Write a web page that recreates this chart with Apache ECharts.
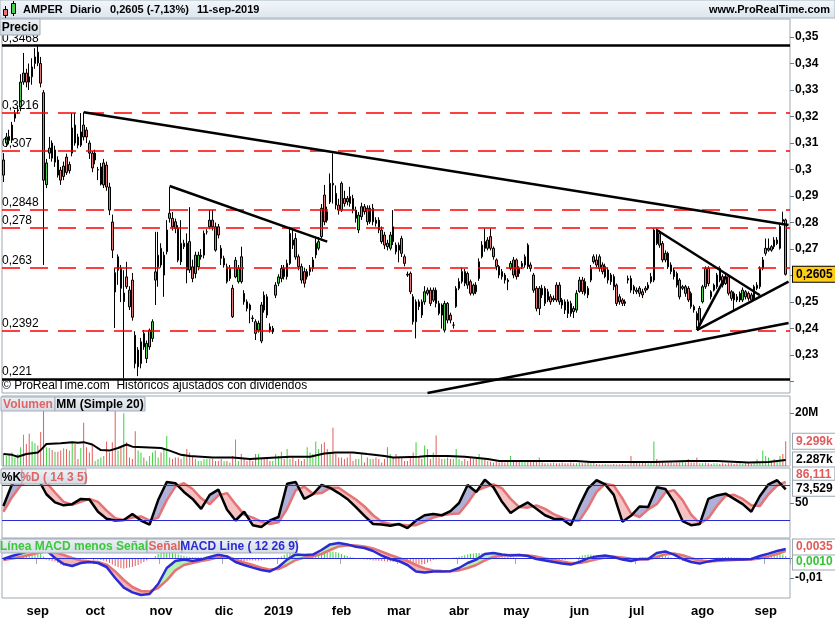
<!DOCTYPE html>
<html>
<head>
<meta charset="utf-8">
<script src="https://cdn.jsdelivr.net/npm/echarts@6.0.0/dist/echarts.min.js"></script>
<style>
html, body { margin: 0; padding: 0; background: #fff; }
#chart { width: 835px; height: 620px; }
</style>
</head>
<body>
<div id="chart"></div>
<script>
var FONT = '"Liberation Sans", Arial, sans-serif';

// daily candles AMPER, 16-aug-2018 .. 11-sep-2019 : [open, close, low, high]
var ohlc = [
[0.2979,0.3036,0.2953,0.3062],[0.3100,0.3123,0.3085,0.3138],[0.3110,0.3125,0.3095,0.3150],[0.3111,0.3168,0.3100,0.3180],
[0.3194,0.3213,0.3180,0.3225],[0.3222,0.3225,0.3210,0.3240],[0.3236,0.3330,0.3220,0.3360],[0.3330,0.3364,0.3320,0.3440],
[0.3364,0.3330,0.3310,0.3380],[0.3350,0.3330,0.3300,0.3400],[0.3350,0.3387,0.3320,0.3420],[0.3400,0.3425,0.3380,0.3458],
[0.3443,0.3402,0.3390,0.3468],[0.3400,0.3326,0.3310,0.3425],[0.3290,0.2960,0.2640,0.3300],[0.2943,0.3025,0.2930,0.3040],
[0.3062,0.3081,0.3040,0.3123],[0.3100,0.3043,0.3030,0.3110],[0.3028,0.3074,0.3010,0.3090],[0.3036,0.2979,0.2970,0.3050],
[0.2998,0.2960,0.2942,0.3010],[0.2974,0.3013,0.2960,0.3030],[0.3047,0.2989,0.2980,0.3060],[0.2996,0.3019,0.2985,0.3030],
[0.3062,0.3157,0.3050,0.3213],[0.3168,0.3100,0.3090,0.3213],[0.3123,0.3092,0.3080,0.3135],[0.3092,0.3142,0.3085,0.3213],
[0.3168,0.3123,0.3110,0.3216],[0.3149,0.3123,0.3100,0.3160],[0.3100,0.3062,0.3040,0.3110],[0.3062,0.3006,0.2990,0.3070],
[0.3036,0.3062,0.3020,0.3075],[0.2998,0.3000,0.2960,0.3010],[0.2945,0.3010,0.2940,0.3025],[0.2942,0.3025,0.2930,0.3040],
[0.3017,0.2934,0.2920,0.3030],[0.2934,0.2847,0.2828,0.2950],[0.2802,0.2696,0.2666,0.2830],[0.2611,0.2538,0.2402,0.2628],
[0.2620,0.2671,0.2565,0.2680],[0.2627,0.2552,0.2500,0.2640],[0.2502,0.2534,0.2213,0.2620],[0.2595,0.2558,0.2550,0.2652],
[0.2545,0.2482,0.2470,0.2560],[0.2583,0.2443,0.2430,0.2610],[0.2375,0.2268,0.2250,0.2390],[0.2256,0.2319,0.2221,0.2330],
[0.2268,0.2350,0.2250,0.2365],[0.2382,0.2331,0.2320,0.2395],[0.2287,0.2344,0.2270,0.2355],[0.2331,0.2394,0.2320,0.2400],
[0.2363,0.2426,0.2350,0.2435],
[0.2583,0.2614,0.2489,0.2765],[0.2633,0.2677,0.2558,0.2765],[0.2703,0.2640,0.2630,0.2722],[0.2602,0.2677,0.2520,0.2690],
[0.2690,0.2772,0.2680,0.2809],[0.2816,0.2835,0.2800,0.2934],[0.2816,0.2784,0.2770,0.2840],[0.2803,0.2778,0.2760,0.2815],
[0.2778,0.2658,0.2650,0.2790],[0.2722,0.2652,0.2640,0.2809],[0.2709,0.2722,0.2700,0.2735],[0.2722,0.2621,0.2571,0.2759],
[0.2728,0.2621,0.2610,0.2858],[0.2633,0.2589,0.2575,0.2660],[0.2608,0.2677,0.2590,0.2690],[0.2633,0.2677,0.2620,0.2690],
[0.2671,0.2677,0.2660,0.2700],[0.2677,0.2759,0.2665,0.2770],[0.2765,0.2765,0.2755,0.2775],[0.2784,0.2809,0.2775,0.2847],
[0.2809,0.2784,0.2770,0.2847],[0.2784,0.2696,0.2690,0.2800],[0.2784,0.2753,0.2740,0.2795],[0.2703,0.2665,0.2640,0.2715],
[0.2640,0.2665,0.2630,0.2675],[0.2633,0.2577,0.2570,0.2645],[0.2589,0.2627,0.2580,0.2640],[0.2552,0.2445,0.2440,0.2565],
[0.2595,0.2658,0.2590,0.2670],[0.2577,0.2627,0.2570,0.2640],[0.2671,0.2577,0.2570,0.2709],[0.2533,0.2501,0.2490,0.2545],
[0.2501,0.2476,0.2465,0.2510],[0.2489,0.2470,0.2420,0.2495],[0.2440,0.2438,0.2425,0.2450],[0.2426,0.2382,0.2357,0.2435],
[0.2394,0.2420,0.2385,0.2430],[0.2353,0.2489,0.2345,0.2500],[0.2526,0.2470,0.2460,0.2540],[0.2520,0.2451,0.2440,0.2530],
[0.2407,0.2394,0.2385,0.2420],[0.2388,0.2401,0.2380,0.2410],[0.2526,0.2564,0.2515,0.2575],[0.2571,0.2595,0.2560,0.2605],
[0.2589,0.2627,0.2575,0.2640],[0.2627,0.2596,0.2585,0.2640],[0.2596,0.2646,0.2585,0.2660],[0.2646,0.2759,0.2640,0.2784],
[0.2734,0.2715,0.2700,0.2778],[0.2740,0.2670,0.2660,0.2760],[0.2671,0.2634,0.2620,0.2680],[0.2634,0.2583,0.2570,0.2645],
[0.2615,0.2571,0.2555,0.2630],[0.2596,0.2615,0.2585,0.2625],[0.2615,0.2627,0.2600,0.2640],[0.2627,0.2659,0.2615,0.2670],
[0.2678,0.2722,0.2665,0.2740],[0.2703,0.2728,0.2695,0.2745],[0.2747,0.2854,0.2740,0.2870],[0.2904,0.2803,0.2790,0.2942],
[0.2841,0.2809,0.2800,0.2860],[0.2878,0.2948,0.2870,0.2985],[0.2948,0.2942,0.2872,0.3061],[0.2910,0.2866,0.2850,0.2940],
[0.2866,0.2847,0.2830,0.2890],[0.2948,0.2847,0.2840,0.2955],[0.2891,0.2872,0.2860,0.2920],[0.2891,0.2878,0.2865,0.2900],
[0.2898,0.2872,0.2860,0.2935],[0.2891,0.2847,0.2835,0.2905],[0.2847,0.2816,0.2800,0.2860],[0.2772,0.2828,0.2760,0.2840],
[0.2822,0.2860,0.2810,0.2875],[0.2860,0.2841,0.2830,0.2870],[0.2854,0.2803,0.2790,0.2865],[0.2803,0.2854,0.2795,0.2865],
[0.2854,0.2803,0.2790,0.2870],[0.2809,0.2797,0.2785,0.2820],[0.2809,0.2772,0.2760,0.2820],[0.2772,0.2728,0.2720,0.2785],
[0.2753,0.2715,0.2700,0.2765],[0.2722,0.2709,0.2695,0.2735],[0.2703,0.2753,0.2695,0.2765],[0.2784,0.2728,0.2715,0.2847],
[0.2715,0.2690,0.2680,0.2725],[0.2715,0.2696,0.2650,0.2725],[0.2740,0.2684,0.2670,0.2750],[0.2671,0.2646,0.2635,0.2680],
[0.2605,0.2602,0.2595,0.2615],[0.2608,0.2539,0.2530,0.2615],[0.2520,0.2426,0.2415,0.2530],[0.2426,0.2501,0.2363,0.2510],
[0.2501,0.2483,0.2470,0.2510],[0.2501,0.2451,0.2440,0.2510],[0.2501,0.2539,0.2490,0.2560],[0.2533,0.2545,0.2525,0.2555],
[0.2545,0.2495,0.2485,0.2555],[0.2507,0.2545,0.2500,0.2555],[0.2545,0.2495,0.2480,0.2555],[0.2495,0.2457,0.2450,0.2505],
[0.2489,0.2451,0.2400,0.2495],[0.2394,0.2495,0.2385,0.2505],[0.2495,0.2432,0.2420,0.2500],[0.2451,0.2432,0.2420,0.2460],
[0.2413,0.2413,0.2400,0.2425],[0.2483,0.2551,0.2478,0.2560],[0.2552,0.2577,0.2545,0.2590],[0.2577,0.2615,0.2570,0.2630],
[0.2615,0.2571,0.2560,0.2625],[0.2608,0.2564,0.2550,0.2615],[0.2577,0.2533,0.2525,0.2585],[0.2564,0.2533,0.2525,0.2570],
[0.2564,0.2539,0.2530,0.2575],[0.2589,0.2652,0.2580,0.2665],[0.2671,0.2715,0.2665,0.2730],[0.2728,0.2703,0.2690,0.2778],
[0.2703,0.2734,0.2695,0.2745],[0.2747,0.2703,0.2695,0.2778],[0.2703,0.2671,0.2660,0.2710],[0.2659,0.2634,0.2620,0.2665],
[0.2634,0.2602,0.2590,0.2640],[0.2615,0.2596,0.2585,0.2625],[0.2602,0.2583,0.2570,0.2610],[0.2583,0.2577,0.2545,0.2590],
[0.2627,0.2646,0.2620,0.2655],[0.2659,0.2602,0.2590,0.2670],[0.2659,0.2596,0.2585,0.2665],[0.2627,0.2608,0.2595,0.2635],
[0.2634,0.2646,0.2625,0.2655],[0.2640,0.2671,0.2630,0.2680],[0.2715,0.2634,0.2625,0.2722],[0.2640,0.2627,0.2615,0.2650],
[0.2602,0.2545,0.2535,0.2610],[0.2552,0.2476,0.2465,0.2560],
[0.2476,0.2552,0.2451,0.2560],[0.2552,0.2527,0.2515,0.2565],[0.2552,0.2495,0.2485,0.2560],[0.2508,0.2539,0.2500,0.2550],
[0.2520,0.2501,0.2490,0.2530],[0.2508,0.2514,0.2500,0.2525],[0.2564,0.2508,0.2500,0.2575],[0.2564,0.2501,0.2490,0.2575],
[0.2508,0.2489,0.2475,0.2515],[0.2501,0.2470,0.2455,0.2510],[0.2501,0.2457,0.2440,0.2510],[0.2495,0.2457,0.2445,0.2505],
[0.2476,0.2464,0.2440,0.2485],[0.2470,0.2533,0.2460,0.2545],[0.2540,0.2583,0.2535,0.2595],[0.2583,0.2540,0.2530,0.2595],
[0.2533,0.2577,0.2525,0.2590],[0.2552,0.2527,0.2515,0.2560],[0.2583,0.2627,0.2575,0.2640],[0.2652,0.2671,0.2645,0.2680],
[0.2659,0.2640,0.2630,0.2680],[0.2671,0.2627,0.2615,0.2680],[0.2640,0.2615,0.2605,0.2650],[0.2596,0.2634,0.2590,0.2645],
[0.2621,0.2583,0.2570,0.2630],[0.2602,0.2577,0.2565,0.2610],[0.2596,0.2558,0.2545,0.2605],[0.2564,0.2495,0.2485,0.2570],
[0.2520,0.2501,0.2490,0.2530],[0.2508,0.2495,0.2485,0.2515],[0.2501,0.2495,0.2485,0.2510],[0.2589,0.2583,0.2570,0.2600],
[0.2589,0.2545,0.2535,0.2600],[0.2558,0.2545,0.2530,0.2565],[0.2545,0.2539,0.2530,0.2555],[0.2552,0.2533,0.2520,0.2560],
[0.2539,0.2527,0.2515,0.2550],[0.2552,0.2545,0.2535,0.2560],[0.2552,0.2564,0.2545,0.2575],[0.2577,0.2596,0.2570,0.2610],
[0.2583,0.2772,0.2575,0.2778],[0.2772,0.2721,0.2715,0.2778],[0.2759,0.2715,0.2705,0.2770],[0.2721,0.2659,0.2650,0.2730],
[0.2684,0.2659,0.2650,0.2695],[0.2684,0.2633,0.2625,0.2690],[0.2640,0.2615,0.2605,0.2650],[0.2621,0.2596,0.2585,0.2630],
[0.2608,0.2564,0.2555,0.2615],[0.2583,0.2520,0.2510,0.2590],[0.2552,0.2558,0.2545,0.2565],[0.2558,0.2533,0.2520,0.2565],
[0.2552,0.2508,0.2500,0.2560],[0.2533,0.2483,0.2475,0.2540],[0.2483,0.2470,0.2460,0.2490],[0.2457,0.2432,0.2401,0.2465],
[0.2413,0.2476,0.2405,0.2485],[0.2501,0.2558,0.2495,0.2565],[0.2558,0.2627,0.2550,0.2635],[0.2627,0.2570,0.2560,0.2635],
[0.2539,0.2520,0.2510,0.2545],[0.2545,0.2564,0.2540,0.2570],[0.2558,0.2602,0.2550,0.2610],[0.2627,0.2583,0.2575,0.2635],
[0.2596,0.2564,0.2555,0.2605],[0.2570,0.2596,0.2565,0.2605],[0.2596,0.2533,0.2525,0.2605],[0.2539,0.2514,0.2505,0.2545],
[0.2533,0.2508,0.2470,0.2540],[0.2520,0.2508,0.2500,0.2530],[0.2508,0.2533,0.2500,0.2540],[0.2508,0.2545,0.2500,0.2555],
[0.2539,0.2520,0.2510,0.2545],[0.2533,0.2514,0.2505,0.2540],[0.2527,0.2508,0.2500,0.2535],[0.2514,0.2558,0.2505,0.2565],
[0.2552,0.2564,0.2545,0.2575],[0.2558,0.2627,0.2550,0.2635],[0.2627,0.2659,0.2620,0.2670],[0.2684,0.2703,0.2675,0.2740],
[0.2696,0.2703,0.2690,0.2740],[0.2709,0.2696,0.2690,0.2715],[0.2734,0.2709,0.2700,0.2745],[0.2721,0.2734,0.2715,0.2745],
[0.2703,0.2785,0.2698,0.2795],[0.2812,0.2805,0.2790,0.2841],[0.2810,0.2605,0.2600,0.2815]
];

// volume, millions
var volume = [
4.5,3.8,4.5,5.1,3.2,4.5,7.1,11.8,8.3,12.2,9.2,8.6,7.7,12.8,20.9,
7.1,6.8,6.0,5.4,5.4,5.8,6.7,6.4,5.8,9.0,8.3,2.6,6.8,16.3,7.1,
5.1,8.3,1.9,2.6,3.2,3.8,9.2,5.1,9.0,20.9,5.8,7.1,19.9,9.0,3.2,
2.6,13.1,5.8,5.1,3.2,1.9,3.8,5.1,5.8,3.2,5.1,6.4,11.3,3.2,2.6,
3.2,3.2,2.6,4.5,6.4,5.1,3.8,2.6,1.9,1.9,2.6,2.6,2.6,2.6,1.9,
1.9,2.6,1.9,1.9,1.3,3.8,10.0,1.9,4.5,2.6,1.9,2.6,1.9,4.5,4.5,
2.6,3.2,3.2,1.9,1.9,4.5,3.8,5.4,2.6,6.4,2.6,3.2,1.9,2.6,1.9,
2.6,7.1,5.1,4.5,9.2,6.4,8.3,9.0,6.4,5.1,14.4,4.5,3.2,3.2,2.6,
3.2,4.5,1.9,2.6,2.6,4.5,1.3,3.2,2.6,2.6,3.2,2.6,1.3,2.6,7.1,
4.5,3.2,4.5,3.2,3.2,1.9,1.9,3.2,5.1,9.0,3.2,
2.6,7.7,6.4,2.6,5.1,11.5,3.2,2.6,2.6,3.2,2.6,2.6,6.4,2.6,1.9,
2.6,1.9,3.2,2.6,2.6,4.5,3.2,2.6,1.9,1.6,1.3,1.6,1.3,1.6,1.3,
1.6,3.8,1.9,1.9,1.6,1.9,1.9,1.6,1.9,1.9,1.6,3.2,1.3,1.0,1.0,
1.0,1.3,1.0,1.0,1.3,1.0,1.0,1.3,1.0,1.0,1.3,1.0,1.0,1.3,1.0,
1.9,0.8,0.6,0.6,0.8,0.6,0.6,0.8,0.6,0.6,0.8,0.6,0.6,3.8,1.3,
1.3,1.0,1.3,1.3,1.0,1.3,9.2,2.6,1.3,1.3,1.0,1.3,1.3,1.0,1.3,
1.3,1.9,1.3,2.6,1.3,1.3,3.2,1.0,1.0,1.3,1.0,0.8,1.0,1.0,0.8,
1.0,0.8,1.0,1.0,0.8,1.0,1.0,0.8,1.0,1.0,0.8,1.0,2.6,1.3,5.8,
3.8,3.2,1.9,2.6,1.9,3.8,4.5,9.299
];

// MM (Simple 20) of volume, read at [bar, millions]
var volumeMA = [[0,4.5],[3,4.2],[5,3.5],[8,4.5],[12,5.1],[13,6.0],[15,8.3],[20,8.6],[24,9.0],[26,8.8],[28,9.0],
[31,8.1],[34,6.0],[37,5.8],[40,6.8],[43,8.1],[45,7.3],[49,7.1],[55,6.8],[58,5.8],[62,4.2],[65,3.8],[73,3.2],
[80,3.2],[86,2.6],[92,3.0],[100,3.5],[107,3.5],[112,4.7],[116,5.1],[122,5.1],[127,4.5],[133,3.8],[136,3.2],
[145,3.5],[148,3.8],[155,3.8],[161,3.5],[169,2.6],[173,1.9],[200,1.9],[205,1.5],[227,1.5],[239,1.9],[249,1.9],
[260,1.3],[267,1.5],[273,2.287]];

// Estocastico %K / %D (14 3 5)
var pctK = [[0,45],[3,82],[6,93],[9,97],[12,92],[15,65],[18,51],[21,46],[24,48],[27,57],[30,56],[33,35],[36,23],
[39,20],[42,21],[45,31],[48,20],[51,13],[54,55],[57,86],[60,84],[63,69],[66,57],[69,40],[72,64],[75,73],[78,39],
[81,20],[84,35],[87,12],[90,9],[93,20],[96,26],[99,83],[102,86],[105,57],[108,65],[111,81],[114,76],[117,67],
[120,57],[123,43],[126,28],[129,14],[132,13],[135,11],[138,14],[141,7],[144,20],[147,29],[150,31],[153,29],
[156,36],[159,50],[162,81],[165,69],[168,90],[171,77],[174,52],[177,33],[180,43],[183,51],[186,40],[189,29],
[192,23],[195,22],[198,12],[201,45],[204,75],[207,89],[210,82],[213,64],[216,18],[219,28],[222,44],[225,43],
[228,77],[231,74],[234,52],[237,19],[240,12],[243,14],[246,57],[249,63],[252,66],[255,57],[258,48],[261,35],
[264,62],[267,82],[270,89],[273,73.529]];
var pctD = [[0,35],[3,60],[6,80],[9,90],[12,94],[15,85],[18,68],[21,52],[24,47],[27,52],[30,57],[33,52],[36,37],
[39,24],[42,21],[45,25],[48,27],[51,20],[54,25],[57,55],[60,78],[63,84],[66,74],[69,58],[72,48],[75,63],[78,67],
[81,48],[84,30],[87,25],[90,18],[93,14],[96,17],[99,40],[102,72],[105,78],[108,66],[111,67],[114,76],[117,76],
[120,66],[123,56],[126,44],[129,29],[132,18],[135,14],[138,13],[141,12],[144,12],[147,18],[150,25],[153,29],
[156,31],[159,32],[162,50],[165,71],[168,77],[171,82],[174,75],[177,57],[180,43],[183,42],[186,46],[189,40],
[192,31],[195,25],[198,20],[201,20],[204,42],[207,69],[210,83],[213,80],[216,58],[219,32],[222,26],[225,39],
[228,48],[231,68],[234,72],[237,55],[240,30],[243,15],[246,24],[249,45],[252,62],[255,64],[258,57],[261,46],
[264,45],[267,65],[270,80],[273,86.111]];

// MACD (12 26 9)
var macdLine = [[0,-0.0005],[3,0.0010],[6,0.0022],[9,0.0036],[12,0.0045],[15,0.0038],[18,0.0000],[21,-0.0030],
[24,-0.0040],[27,-0.0025],[30,-0.0020],[33,-0.0025],[36,-0.0045],[39,-0.0100],[42,-0.0148],[45,-0.0172],
[48,-0.0185],[51,-0.0180],[54,-0.0130],[57,-0.0050],[60,-0.0015],[63,-0.0008],[66,-0.0015],[69,-0.0008],
[72,0.0005],[75,0.0017],[78,0.0008],[81,-0.0020],[84,-0.0035],[87,-0.0048],[90,-0.0060],[93,-0.0067],
[96,-0.0045],[99,-0.0008],[102,0.0018],[105,0.0015],[108,0.0017],[111,0.0040],[114,0.0068],[117,0.0075],
[120,0.0068],[123,0.0056],[126,0.0050],[129,0.0035],[132,0.0012],[135,-0.0005],[138,-0.0015],[141,-0.0035],
[144,-0.0068],[147,-0.0072],[150,-0.0067],[153,-0.0067],[156,-0.0066],[159,-0.0050],[162,-0.0025],[165,-0.0008],
[168,0.0020],[171,0.0025],[174,0.0018],[177,0.0012],[180,0.0015],[183,0.0010],[186,-0.0005],[189,-0.0012],
[192,-0.0020],[195,-0.0027],[198,-0.0033],[201,-0.0020],[204,-0.0002],[207,0.0008],[210,0.0012],[213,0.0005],
[216,-0.0008],[219,-0.0015],[222,-0.0005],[225,-0.0005],[228,0.0025],[231,0.0033],[234,0.0017],[237,-0.0005],
[240,-0.0020],[243,-0.0028],[246,-0.0017],[249,-0.0010],[252,-0.0008],[255,-0.0008],[258,-0.0007],[261,-0.0005],
[264,0.0010],[267,0.0022],[270,0.0035],[273,0.0045]];
var macdSignal = [[0,-0.0010],[3,-0.0003],[6,0.0005],[9,0.0015],[12,0.0025],[15,0.0032],[18,0.0028],[21,0.0015],
[24,0.0000],[27,-0.0012],[30,-0.0018],[33,-0.0020],[36,-0.0033],[39,-0.0067],[42,-0.0110],[45,-0.0145],
[48,-0.0165],[51,-0.0167],[54,-0.0150],[57,-0.0112],[60,-0.0062],[63,-0.0035],[66,-0.0025],[69,-0.0015],
[72,-0.0008],[75,0.0005],[78,0.0008],[81,-0.0008],[84,-0.0022],[87,-0.0035],[90,-0.0048],[93,-0.0058],
[96,-0.0055],[99,-0.0035],[102,-0.0010],[105,0.0002],[108,0.0008],[111,0.0020],[114,0.0040],[117,0.0058],
[120,0.0064],[123,0.0062],[126,0.0058],[129,0.0048],[132,0.0032],[135,0.0015],[138,0.0000],[141,-0.0015],
[144,-0.0035],[147,-0.0052],[150,-0.0062],[153,-0.0065],[156,-0.0066],[159,-0.0062],[162,-0.0050],[165,-0.0035],
[168,-0.0012],[171,0.0005],[174,0.0013],[177,0.0015],[180,0.0015],[183,0.0013],[186,0.0007],[189,-0.0002],
[192,-0.0010],[195,-0.0018],[198,-0.0025],[201,-0.0025],[204,-0.0017],[207,-0.0007],[210,0.0002],[213,0.0006],
[216,0.0003],[219,-0.0004],[222,-0.0007],[225,-0.0006],[228,0.0005],[231,0.0018],[234,0.0022],[237,0.0014],
[240,0.0000],[243,-0.0013],[246,-0.0017],[249,-0.0015],[252,-0.0012],[255,-0.0010],[258,-0.0008],[261,-0.0007],
[264,-0.0002],[267,0.0008],[270,0.0020],[273,0.0035]];
// Linea MACD menos Senal, one per bar, in units of 0.0001
var macdHist = [
-2,1,3,5, 8,12,16,20,24,28,30,30,28,20,8, -8,-12,-15,-18, -25,-32,-38,-40,-38,-32,-25,-18,
-12,-8,-6,-5,-5,-6,-8,-10,-14,-18,-25, -32,-40,-46,-50,-52,-50,-48,-45,-40,-35,-28,-20,-12, -5,0,
10,20,28,30,30,28,25,22,18,14,10,7, 5,4,3,4,5,6,7,8,8,7,5, 3,1,-2,-4,-6,
-10,-13,-15,-15,-14,-13,-12,-12,-12,-11,-10,-9,-7,-5,-2,2, 8,15,22,25,24,20,15,10, 6,4,4,6,10,15,20,
26,30,33,33,30,26,20,14,10, 6,3,0,-2,-4,-6,-8,
-10,-12,-13,-14,-15,-16,-17,-18,-19,-20,-21,-22,-24,-26,-28,-30,-32,-33, -33,-30, -22,-15,-10,-8,-6,-5,
-3,-1,0,2,4,6, 10,14,18,21,23,25,25,24,22,18, 14,11,10,9,8,7,5,3, 2,1,0,-1,-2,-3,-4,-6,
-8,-10,-12,-14,-15,-15,-14,-13,-12,-11,-10,-8,-6,-3, 3,8,12,15,17,17,15,12,9, 7,5,4,3,2,
0,-2,-3,-3,-2,-1,0, 1,1,2,3,5, 10,14,15,15,13,10,6, 2,-2,-5, -9,-12,-15,-17,-17,-16,-14,-12,-9,
-6,-4,-2,-1, 2,3,4,5,5,4,3,2,2,1,1,0,1, 4,8,12,16,19,22,24,25,24,22,18,10
];

// drawn levels and trend lines on the price panel
var solidLevels = [0.3468, 0.221];
var dashedLevels = [0.3216, 0.307, 0.2848, 0.278, 0.263, 0.2392];
var trendLines = [
  [[28, 0.3216], [274, 0.2791]],
  [[58, 0.2938], [113, 0.2728]],
  [[148, 0.2157], [274, 0.2421]],
  [[228, 0.2772], [264, 0.2526]],
  [[242, 0.2394], [274, 0.2577]],
  [[242, 0.2394], [252, 0.2595]]
];

var monthStart = [12, 32, 55, 77, 96, 118, 138, 159, 179, 201, 221, 244, 266];
var monthLabel = ['sep', 'oct', 'nov', 'dic', '2019', 'feb', 'mar', 'abr', 'may', 'jun', 'jul', 'ago', 'sep'];
var priceTicksShown = [0.23, 0.24, 0.25, 0.27, 0.28, 0.29, 0.3, 0.31, 0.32, 0.33, 0.34, 0.35];

var GREEN = '#4ccf4c', RED = '#e57474', BORDER = '#9ea8b2', BLUE = '#2b2bd6';
var CLEAR = 'rgba(0,0,0,0)';

var cats = ohlc.map(function (d, i) { return String(i); });
cats.push('');

function isMonth(index) { return monthStart.indexOf(index) >= 0; }
function comma(v) { return String(v).replace('.', ','); }

function fillData(a, b) {
  var out = [];
  for (var j = 0; j < a.length - 1; j++) {
    out.push([a[j][0], a[j][1], b[j][1], a[j + 1][0], a[j + 1][1], b[j + 1][1]]);
  }
  return out;
}
function makeFill(up, down) {
  return function (params, api) {
    var x0 = api.value(0), a0 = api.value(1), b0 = api.value(2);
    var x1 = api.value(3), a1 = api.value(4), b1 = api.value(5);
    var A0 = api.coord([x0, a0]), B0 = api.coord([x0, b0]);
    var A1 = api.coord([x1, a1]), B1 = api.coord([x1, b1]);
    var d0 = a0 - b0, d1 = a1 - b1;
    var kids = [];
    function poly(pts, c) {
      kids.push({ type: 'polygon', shape: { points: pts }, style: { fill: c, stroke: c, lineWidth: 0.5 }, silent: true });
    }
    if (d0 * d1 >= 0) {
      poly([A0, A1, B1, B0], (d0 + d1) >= 0 ? up : down);
    } else {
      var t = d0 / (d0 - d1);
      var P = [A0[0] + (A1[0] - A0[0]) * t, A0[1] + (A1[1] - A0[1]) * t];
      poly([A0, P, B0], d0 > 0 ? up : down);
      poly([P, A1, B1], d1 > 0 ? up : down);
    }
    return { type: 'group', children: kids };
  };
}

function tag(text, color, bg, dy, border) {
  return {
    show: true, position: 'end', formatter: text, color: color, fontFamily: FONT,
    fontWeight: 'bold', fontSize: 12, backgroundColor: bg || '#fff', borderColor: border || BORDER,
    borderWidth: 1, padding: [2, 3, 1, 3], distance: 3, offset: [0, dy || 0]
  };
}
function clearLine() { return { color: CLEAR, width: 1, type: 'solid' }; }
function marks(data) {
  return { silent: true, symbol: ['none', 'none'], animation: false, precision: 6, data: data };
}

var grids = [
  { top: 19, height: 374 },
  { top: 396, height: 70 },
  { top: 468, height: 70 },
  { top: 539, height: 59 }
].map(function (g) {
  return { left: 2, right: 45, top: g.top, height: g.height, show: true,
    borderColor: BORDER, borderWidth: 1, backgroundColor: '#fff' };
});

var xAxes = grids.map(function (g, gi) {
  return {
    type: 'category', gridIndex: gi, data: cats, boundaryGap: true,
    axisLine: { show: false },
    axisTick: { show: gi === 3, interval: function (i) { return isMonth(i); }, length: 6, lineStyle: { color: BORDER } },
    axisLabel: {
      show: gi === 3, interval: function (i) { return isMonth(i); },
      formatter: function (v, i) { var k = monthStart.indexOf(i); return k >= 0 ? monthLabel[k] : ''; },
      fontFamily: FONT, fontWeight: 'bold', fontSize: 13, color: '#000', margin: 7
    },
    splitLine: { show: false }
  };
});

function yBase(gi, extra) {
  var o = {
    type: 'value', gridIndex: gi, position: 'right',
    axisLine: { show: false },
    axisTick: { show: true, length: 4, lineStyle: { color: '#707880' } },
    axisLabel: { fontFamily: FONT, fontWeight: 'bold', fontSize: 12, color: '#000', margin: 5,
      showMinLabel: false, showMaxLabel: false },
    splitLine: { show: false }
  };
  for (var k in extra) {
    if (k === 'axisLabel') { for (var q in extra[k]) o.axisLabel[q] = extra[k][q]; }
    else o[k] = extra[k];
  }
  return o;
}

var yAxes = [
  yBase(0, { min: 0.2157, max: 0.3568, splitNumber: 14,
    axisLabel: { formatter: function (v) {
      var r = +v.toFixed(2);
      var shown = priceTicksShown.some(function (t) { return Math.abs(t - r) < 1e-6; });
      return shown ? comma(r) : '';
    } } }),
  yBase(1, { min: 0, max: 26.4, interval: 20,
    axisLabel: { formatter: function (v) { return v === 20 ? '20M' : ''; } } }),
  yBase(2, { min: -10, max: 110, interval: 60,
    axisLabel: { formatter: function (v) { return v === 50 ? '50' : ''; } } }),
  yBase(3, { min: -0.02, max: 0.0095, interval: 0.01,
    axisLabel: { formatter: function (v) { return Math.abs(v + 0.01) < 1e-9 ? '-0,01' : ''; } } })
];

var lastBar = ohlc[ohlc.length - 1];
var lastVol = volume[volume.length - 1], lastMA = volumeMA[volumeMA.length - 1][1];
var lastK = pctK[pctK.length - 1][1], lastD = pctD[pctD.length - 1][1];
var lastSig = macdSignal[macdSignal.length - 1][1], lastHist = macdHist[macdHist.length - 1] / 10000;

var levelLabel = { show: true, position: 'insideStartTop', color: '#000', fontFamily: FONT, fontSize: 12, distance: [0, 1] };
var priceMarks = [];
solidLevels.forEach(function (v) {
  priceMarks.push({ yAxis: v, lineStyle: { color: '#000', width: 2.5, type: 'solid' },
    label: Object.assign({ formatter: comma(v) }, levelLabel) });
});
dashedLevels.forEach(function (v) {
  priceMarks.push({ yAxis: v, lineStyle: { color: '#ff0000', width: 1.5, type: [18, 10] },
    label: Object.assign({ formatter: comma(v) }, levelLabel) });
});
trendLines.forEach(function (t) {
  priceMarks.push([{ coord: t[0], lineStyle: { color: '#000', width: 2.5, type: 'solid' }, label: { show: false } }, { coord: t[1] }]);
});
priceMarks.push({ yAxis: lastBar[1], lineStyle: clearLine(),
  label: tag(comma(lastBar[1].toFixed(4)), '#000', '#ffcc1a', 0, '#000') });

var series = [
  {
    type: 'candlestick', name: 'Precio', xAxisIndex: 0, yAxisIndex: 0, data: ohlc, barWidth: 2,
    itemStyle: { color: GREEN, color0: RED, borderColor: '#000', borderColor0: '#000', borderWidth: 1 },
    markLine: marks(priceMarks)
  },
  {
    type: 'bar', name: 'Volumen', xAxisIndex: 1, yAxisIndex: 1, barWidth: 1,
    data: volume.map(function (v, i) {
      return { value: v, itemStyle: { color: ohlc[i][1] >= ohlc[i][0] ? '#3cd03c' : '#e25c5c' } };
    }),
    markLine: marks([{ yAxis: lastVol, lineStyle: clearLine(), label: tag(lastVol.toFixed(3) + 'k', '#e05a5a') }])
  },
  {
    type: 'line', name: 'MM (Simple 20)', xAxisIndex: 1, yAxisIndex: 1, data: volumeMA, symbol: 'none',
    lineStyle: { color: '#000', width: 2 },
    markLine: marks([{ yAxis: lastMA, lineStyle: clearLine(), label: tag(lastMA.toFixed(3) + 'k', '#000') }])
  },
  {
    type: 'custom', xAxisIndex: 2, yAxisIndex: 2, data: fillData(pctK, pctD), silent: true,
    encode: { x: [0, 3], y: [1, 2, 4, 5] }, renderItem: makeFill('#aeb0d8', '#f4c2c2'), z: 1
  },
  {
    type: 'line', name: '%D', xAxisIndex: 2, yAxisIndex: 2, data: pctD, symbol: 'none', z: 3,
    lineStyle: { color: RED, width: 2.5 },
    markLine: marks([{ yAxis: lastD, lineStyle: clearLine(), label: tag(lastD.toFixed(3).replace('.', ','), '#e05a5a', '#fff', -7) }])
  },
  {
    type: 'line', name: '%K', xAxisIndex: 2, yAxisIndex: 2, data: pctK, symbol: 'none', z: 4,
    lineStyle: { color: '#000', width: 2.5 },
    markLine: marks([
      { yAxis: 80, lineStyle: { color: BLUE, width: 1, type: 'solid' }, label: { show: false } },
      { yAxis: 20, lineStyle: { color: BLUE, width: 1, type: 'solid' }, label: { show: false } },
      { yAxis: lastK, lineStyle: clearLine(), label: tag(lastK.toFixed(3).replace('.', ','), '#000', '#fff', -1) }
    ])
  },
  {
    type: 'bar', name: 'Linea MACD menos Senal', xAxisIndex: 3, yAxisIndex: 3, barWidth: 1, z: 1,
    data: macdHist.map(function (v) {
      return { value: v / 10000, itemStyle: { color: v >= 0 ? '#3cd03c' : '#e25c5c' } };
    }),
    markLine: marks([{ yAxis: lastHist, lineStyle: clearLine(), label: tag(lastHist.toFixed(4).replace('.', ','), '#33c433', '#fff', 6) }])
  },
  {
    type: 'custom', xAxisIndex: 3, yAxisIndex: 3, data: fillData(macdLine, macdSignal), silent: true,
    encode: { x: [0, 3], y: [1, 2, 4, 5] }, renderItem: makeFill('#b4f0b0', '#f2b4b4'), z: 2
  },
  {
    type: 'line', name: 'Senal', xAxisIndex: 3, yAxisIndex: 3, data: macdSignal, symbol: 'none', z: 3,
    lineStyle: { color: RED, width: 2.5 },
    markLine: marks([{ yAxis: lastSig, lineStyle: clearLine(), label: tag(lastSig.toFixed(4).replace('.', ','), '#e05a5a', '#fff', -4) }])
  },
  {
    type: 'line', name: 'MACD Line', xAxisIndex: 3, yAxisIndex: 3, data: macdLine, symbol: 'none', z: 4,
    lineStyle: { color: BLUE, width: 2.5 },
    markLine: marks([{ yAxis: 0, lineStyle: { color: BLUE, width: 1, type: 'solid' }, label: { show: false } }])
  }
];

function box(x, y, w, h, text, color) {
  return [
    { type: 'rect', shape: { x: x, y: y, width: w, height: h }, z: 100,
      style: { fill: new echarts.graphic.LinearGradient(0, 0, 0, 1, [{ offset: 0, color: '#eef2f6' }, { offset: 1, color: '#d3dbe3' }]), stroke: '#a3adb8', lineWidth: 1 } },
    { type: 'text', x: x + w / 2, y: y + h / 2 + 1, z: 101,
      style: { text: text, fill: color, font: 'bold 12px ' + FONT, align: 'center', verticalAlign: 'middle' } }
  ];
}
function label(x, y, text, font, color, align) {
  return { type: 'text', x: x, y: y, z: 101,
    style: { text: text, fill: color || '#000', font: font, align: align || 'left', verticalAlign: 'middle' } };
}

var HEAD = 'bold 11px ' + FONT;
var graphics = [
  { type: 'rect', shape: { x: 0, y: 0, width: 835, height: 18 }, z: 99,
    style: { fill: new echarts.graphic.LinearGradient(0, 0, 0, 1, [{ offset: 0, color: '#f3f7fb' }, { offset: 1, color: '#dbe5ee' }]), stroke: '#a9b4bf' } },
  { type: 'line', shape: { x1: 5.5, y1: 6, x2: 5.5, y2: 18 }, z: 100, style: { stroke: '#000' } },
  { type: 'rect', shape: { x: 3.5, y: 9.5, width: 4, height: 6 }, z: 101, style: { fill: RED, stroke: '#000' } },
  { type: 'line', shape: { x1: 13.5, y1: 1, x2: 13.5, y2: 16 }, z: 100, style: { stroke: '#000' } },
  { type: 'rect', shape: { x: 11.5, y: 3.5, width: 4, height: 10 }, z: 101, style: { fill: GREEN, stroke: '#000' } },
  label(23, 10, 'AMPER', HEAD),
  label(70, 10, 'Diario', HEAD),
  label(110, 10, '0,2605 (-7,13%)', HEAD),
  label(197, 10, '11-sep-2019', HEAD),
  label(830, 10, 'www.ProRealTime.com', HEAD, '#000', 'right'),
  label(2, 386, '\u00a9 ProRealTime.com  Hist\u00f3ricos ajustados con dividendos', '12px ' + FONT)
]
  .concat(box(0, 19, 40, 16, 'Precio', '#000'))
  .concat(box(1, 397, 54, 14, 'Volumen', '#e06464'))
  .concat(box(55, 397, 90, 14, 'MM (Simple 20)', '#000'))
  .concat(box(1, 469, 21, 15, '%K', '#000'))
  .concat(box(22, 469, 64, 15, '%D ( 14 3 5)', '#e06464'))
  .concat(box(1, 539, 146, 14, 'L\u00ednea MACD menos Se\u00f1al', '#3cc83c'))
  .concat(box(147, 539, 35, 14, 'Se\u00f1al', '#e06464'))
  .concat(box(182, 539, 115, 14, 'MACD Line ( 12 26 9)', BLUE));

var chart = echarts.init(document.getElementById('chart'));
chart.setOption({
  animation: false,
  backgroundColor: '#fff',
  textStyle: { fontFamily: FONT },
  grid: grids,
  xAxis: xAxes,
  yAxis: yAxes,
  series: series,
  graphic: graphics
});
</script>
</body>
</html>
